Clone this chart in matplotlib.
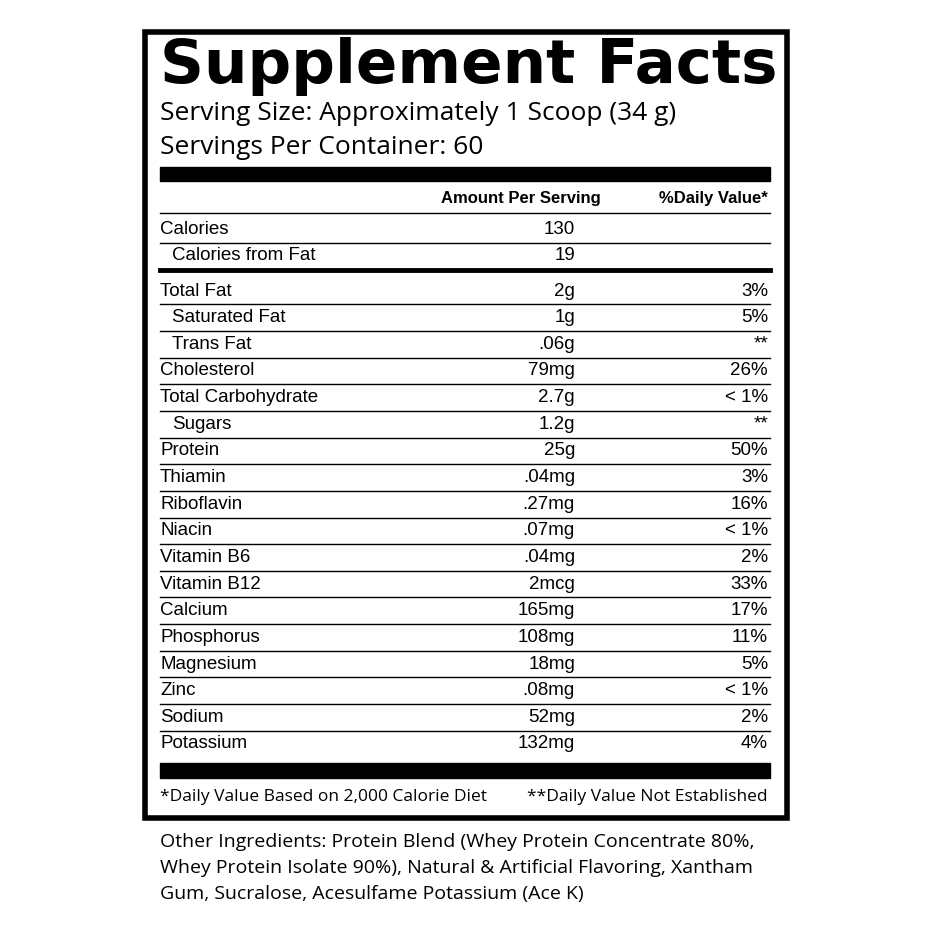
import matplotlib
matplotlib.use("Agg")
import matplotlib.pyplot as plt

names = ["Total Fat","Saturated Fat","Trans Fat","Cholesterol","Total Carbohydrate","Sugars",
         "Protein","Thiamin","Riboflavin","Niacin","Vitamin B6","Vitamin B12","Calcium",
         "Phosphorus","Magnesium","Zinc","Sodium","Potassium"]
amounts = ["2g","1g",".06g","79mg","2.7g","1.2g","25g",".04mg",".27mg",".07mg",".04mg","2mcg",
           "165mg","108mg","18mg",".08mg","52mg","132mg"]
dvs = ["3%","5%","**","26%","< 1%","**","50%","3%","16%","< 1%","2%","33%","17%","11%","5%",
       "< 1%","2%","4%"]
indent = [0,1,1,0,0,1,0,0,0,0,0,0,0,0,0,0,0,0]
top_names = ["Calories","Calories from Fat"]
top_amounts = ["130","19"]
top_indent = [0,1]

fig = plt.figure(figsize=(9.31,9.31), dpi=100)
ax = fig.add_axes([0,0,1,1])
ax.set_xlim(0,931); ax.set_ylim(931,0); ax.axis("off")
cond = ["Liberation Sans Narrow","Liberation Sans","DejaVu Sans"]
body = ["Open Sans","DejaVu Sans"]

ax.add_patch(plt.Rectangle((145,32),642,786,fill=False,lw=4,ec="black"))
ax.text(160,66,"Supplement Facts",fontsize=44,fontweight="heavy",family=["DejaVu Sans"],va="center",ha="left")
ax.text(160,113,"Serving Size: Approximately 1 Scoop (34 g)",fontsize=19,family=body,va="center")
ax.text(160,148,"Servings Per Container: 60",fontsize=19,family=body,va="center")
ax.add_patch(plt.Rectangle((160,167),610,14,color="black"))
ax.text(521,199,"Amount Per Serving",fontsize=12,fontweight="bold",family=cond,ha="center",va="center")
ax.text(768,199,"%Daily Value*",fontsize=12,fontweight="bold",family=cond,ha="right",va="center")
ax.plot([160,770],[213,213],color="black",lw=1)
ys=[230,256]
for i,(n,a) in enumerate(zip(top_names,top_amounts)):
    ax.text(160+12*top_indent[i],ys[i],n,fontsize=13.5,family=cond,va="center")
    ax.text(575,ys[i],a,fontsize=13.5,family=cond,va="center",ha="right")
ax.plot([160,770],[243,243],color="black",lw=1)
ax.plot([160,770],[270,270],color="black",lw=3.5)
y0=291; dy=(744-291)/17
for i,(n,a,d) in enumerate(zip(names,amounts,dvs)):
    y=y0+i*dy
    ax.text(160+12*indent[i],y,n,fontsize=13.5,family=cond,va="center")
    ax.text(575,y,a,fontsize=13.5,family=cond,va="center",ha="right")
    ax.text(768,y,d,fontsize=13.5,family=cond,va="center",ha="right")
    if i<len(names)-1:
        ax.plot([160,770],[y+dy/2,y+dy/2],color="black",lw=1)
ax.add_patch(plt.Rectangle((160,763),610,15,color="black"))
ax.text(160,797,"*Daily Value Based on 2,000 Calorie Diet",fontsize=12.5,family=body,va="center")
ax.text(768,797,"**Daily Value Not Established",fontsize=12.5,family=body,va="center",ha="right")
other=["Other Ingredients: Protein Blend (Whey Protein Concentrate 80%,",
       "Whey Protein Isolate 90%), Natural & Artificial Flavoring, Xantham",
       "Gum, Sucralose, Acesulfame Potassium (Ace K)"]
for i,l in enumerate(other):
    ax.text(160,842+26*i,l,fontsize=14,family=body,va="center")
fig.savefig("out.png",dpi=100,facecolor="white")
